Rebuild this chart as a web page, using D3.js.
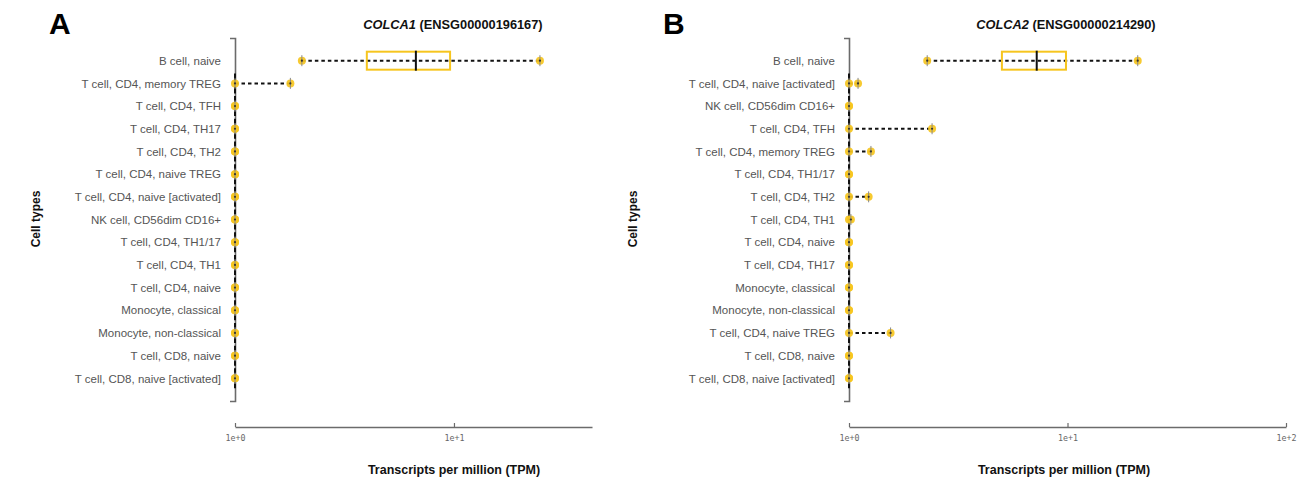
<!DOCTYPE html>
<html>
<head>
<meta charset="utf-8">
<script src="https://cdn.jsdelivr.net/npm/d3@7"></script>
<style>
  html, body { margin: 0; padding: 0; background: #fff; }
  svg { display: block; font-family: "Liberation Sans", Arial, sans-serif; }
</style>
</head>
<body>
<svg id="chart" width="1306" height="483"></svg>
<script>
// ---------- Panel A data (COLCA1) ----------
const cellTypesA = [
  "B cell, naive", "T cell, CD4, memory TREG", "T cell, CD4, TFH", "T cell, CD4, TH17",
  "T cell, CD4, TH2", "T cell, CD4, naive TREG", "T cell, CD4, naive [activated]",
  "NK cell, CD56dim CD16+", "T cell, CD4, TH1/17", "T cell, CD4, TH1", "T cell, CD4, naive",
  "Monocyte, classical", "Monocyte, non-classical", "T cell, CD8, naive", "T cell, CD8, naive [activated]"
];
const minA    = [2.02, 1, 1, 1, 1, 1, 1, 1, 1, 1, 1, 1, 1, 1, 1];
const q1A     = [4.0,  1, 1, 1, 1, 1, 1, 1, 1, 1, 1, 1, 1, 1, 1];
const medianA = [6.7,  1, 1, 1, 1, 1, 1, 1, 1, 1, 1, 1, 1, 1, 1];
const q3A     = [9.6,  1, 1, 1, 1, 1, 1, 1, 1, 1, 1, 1, 1, 1, 1];
const maxA    = [24.7, 1.79, 1, 1, 1, 1, 1, 1, 1, 1, 1, 1, 1, 1, 1];
const ticksA  = [1, 10];
const xDomainA = [1, 42.7];

// ---------- Panel B data (COLCA2) ----------
const cellTypesB = [
  "B cell, naive", "T cell, CD4, naive [activated]", "NK cell, CD56dim CD16+", "T cell, CD4, TFH",
  "T cell, CD4, memory TREG", "T cell, CD4, TH1/17", "T cell, CD4, TH2", "T cell, CD4, TH1",
  "T cell, CD4, naive", "T cell, CD4, TH17", "Monocyte, classical", "Monocyte, non-classical",
  "T cell, CD4, naive TREG", "T cell, CD8, naive", "T cell, CD8, naive [activated]"
];
const minB    = [2.28, 1, 1, 1, 1, 1, 1, 1, 1, 1, 1, 1, 1, 1, 1];
const q1B     = [5.01, 1, 1, 1, 1, 1, 1, 1, 1, 1, 1, 1, 1, 1, 1];
const medianB = [7.23, 1, 1, 1, 1, 1, 1, 1, 1, 1, 1, 1, 1, 1, 1];
const q3B     = [9.84, 1, 1, 1, 1, 1, 1, 1, 1, 1, 1, 1, 1, 1, 1];
const maxB    = [20.96, 1.10, 1, 2.40, 1.26, 1, 1.23, 1.02, 1, 1, 1, 1, 1.55, 1, 1];
const ticksB  = [1, 10, 100];
const xDomainB = [1, 100];

const svg = d3.select("#chart");
const YELLOW = "#f6c51f";

function drawPanel(opt) {
  const g = svg.append("g");
  const rows = opt.cats.map((c, i) => ({
    cat: c, min: opt.min[i], q1: opt.q1[i], med: opt.med[i], q3: opt.q3[i], max: opt.max[i]
  }));

  const x = d3.scaleLog().domain(opt.xDomain).range([opt.x0, opt.x1]);
  const y = d3.scalePoint().domain(opt.cats).range([38, 401]).padding(1);

  // y axis
  const yAxis = g.append("g")
    .attr("transform", `translate(${opt.x0},0)`)
    .call(d3.axisLeft(y).tickSize(0).tickSizeOuter(5).tickPadding(14));
  yAxis.select(".domain").attr("stroke", "#6b6b6b").attr("stroke-width", 1.6);
  yAxis.selectAll("text")
    .attr("fill", "#555").style("font-size", "11.5px")
    .style("font-family", "'Liberation Sans', Arial, sans-serif");

  // x axis
  const xAxis = g.append("g")
    .attr("transform", "translate(0,427)")
    .call(d3.axisBottom(x).tickValues(opt.ticks).tickFormat(d3.format(".0e"))
      .tickSize(-4).tickSizeOuter(0).tickPadding(8));
  xAxis.select(".domain").attr("stroke", "#6b6b6b").attr("stroke-width", 1.6);
  xAxis.selectAll(".tick line").attr("stroke", "#6b6b6b").attr("stroke-width", 1.2);
  xAxis.selectAll("text")
    .attr("fill", "#666").style("font-size", "8.3px")
    .style("font-family", "'DejaVu Sans Mono', monospace");

  const bw = 18;
  const rg = g.selectAll(".row").data(rows).join("g").attr("class", "row")
    .attr("transform", d => `translate(0,${y(d.cat)})`);

  // dashed whisker line
  rg.append("line")
    .attr("x1", d => x(d.min)).attr("x2", d => x(d.max))
    .attr("stroke", "#111").attr("stroke-width", 2).attr("stroke-dasharray", "3.5,3");

  // box
  rg.append("rect")
    .attr("x", d => x(d.q1)).attr("width", d => x(d.q3) - x(d.q1))
    .attr("y", -bw / 2).attr("height", bw)
    .attr("fill", "none").attr("stroke", YELLOW).attr("stroke-width", 2);

  // median
  rg.append("line")
    .attr("x1", d => x(d.med)).attr("x2", d => x(d.med))
    .attr("y1", -bw / 2 - 1).attr("y2", bw / 2 + 1)
    .attr("stroke", "#111").attr("stroke-width", 2);

  // whisker ends
  ["min", "max"].forEach(k => {
    rg.append("circle")
      .attr("cx", d => x(d[k])).attr("r", 4)
      .attr("fill", YELLOW).attr("opacity", 0.92);
    rg.append("line")
      .attr("x1", d => x(d[k])).attr("x2", d => x(d[k]))
      .attr("y1", -5.5).attr("y2", 5.5)
      .attr("stroke", "#888").attr("stroke-width", 1);
    rg.append("circle")
      .attr("cx", d => x(d[k])).attr("r", 1.1).attr("fill", "#333");
  });

  // panel letter
  g.append("text").attr("x", opt.letterX).attr("y", 34)
    .attr("font-size", 30).attr("font-weight", "bold").attr("fill", "#000")
    .style("font-family", "'Liberation Sans', Arial, sans-serif")
    .text(opt.letter);

  // title
  const t = g.append("text").attr("x", opt.centerX).attr("y", 29)
    .attr("text-anchor", "middle")
    .attr("font-size", 12.8).attr("font-weight", "bold").attr("fill", "#111");
  t.append("tspan").attr("font-style", "italic").text(opt.gene);
  t.append("tspan").text(" (" + opt.ensg + ")");

  // y label
  g.append("text")
    .attr("transform", `translate(${opt.yLabelX},219) rotate(-90)`)
    .attr("text-anchor", "middle").attr("font-size", 12).attr("font-weight", "bold")
    .attr("fill", "#111").text("Cell types");

  // x label
  g.append("text").attr("x", opt.xLabelX).attr("y", 474)
    .attr("text-anchor", "middle").attr("font-size", 12.5).attr("font-weight", "bold")
    .attr("fill", "#111").text("Transcripts per million (TPM)");
}

drawPanel({
  cats: cellTypesA, min: minA, q1: q1A, med: medianA, q3: q3A, max: maxA,
  ticks: ticksA, xDomain: xDomainA, x0: 235, x1: 592,
  letter: "A", letterX: 49, gene: "COLCA1", ensg: "ENSG00000196167",
  centerX: 453, yLabelX: 40, xLabelX: 454
});
drawPanel({
  cats: cellTypesB, min: minB, q1: q1B, med: medianB, q3: q3B, max: maxB,
  ticks: ticksB, xDomain: xDomainB, x0: 849, x1: 1286,
  letter: "B", letterX: 663, gene: "COLCA2", ensg: "ENSG00000214290",
  centerX: 1066, yLabelX: 637, xLabelX: 1064
});
</script>
</body>
</html>
